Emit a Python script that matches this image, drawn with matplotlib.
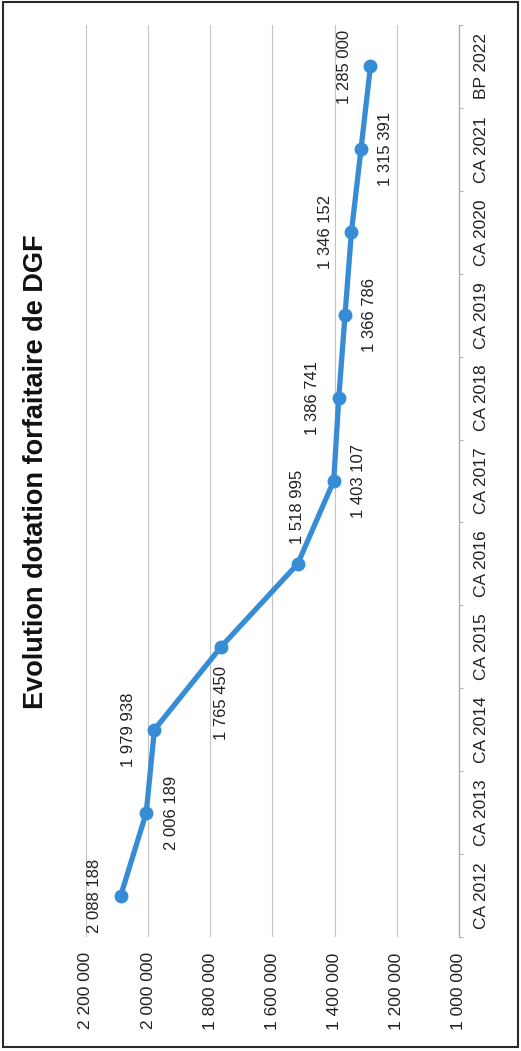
import matplotlib.pyplot as plt
import matplotlib
from matplotlib.patches import Rectangle
from matplotlib.ticker import FixedLocator, FuncFormatter

matplotlib.rcParams['font.family'] = ['Liberation Sans', 'DejaVu Sans']

# Données (graphique scanné, tourné de 90°)
CATEGORIES = ['CA 2012', 'CA 2013', 'CA 2014', 'CA 2015', 'CA 2016', 'CA 2017',
              'CA 2018', 'CA 2019', 'CA 2020', 'CA 2021', 'BP 2022']
DOTATION = [2088188, 2006189, 1979938, 1765450, 1518995, 1403107,
            1386741, 1366786, 1346152, 1315391, 1285000]
VALUE_TICKS = [1000000, 1200000, 1400000, 1600000, 1800000, 2000000, 2200000]
TITLE = 'Evolution dotation forfaitaire de DGF'

# position des étiquettes (sens du graphique d'origine)
LABEL_POS = ['above', 'below', 'above', 'left', 'right', 'below',
             'above', 'below', 'above', 'below', 'above']
OFFSETS = {'above': (-26, 0), 'below': (25, 0), 'left': (0, -56), 'right': (0, 57)}

BLUE = '#368dd6'


def fmt(v):
    return f'{int(v):,}'.replace(',', ' ')


fig = plt.figure(figsize=(5.21, 10.51), dpi=100)

# cadre autour du graphique
fig.patches.append(Rectangle((0.006, 0.004), 0.988, 0.994, transform=fig.transFigure,
                             fill=False, edgecolor='#2a2a2a', linewidth=1.5))

ax = fig.add_axes([86 / 521, 1 - 937 / 1051, (459 - 86) / 521, (937 - 25) / 1051])

y = list(range(len(CATEGORIES)))
ax.plot(DOTATION, y, '-o', color=BLUE, linewidth=3.8, markersize=9, zorder=3)

ax.set_xlim(2200000, 1000000)
ax.set_ylim(-0.5, len(CATEGORIES) - 0.5)

# graduations des valeurs (en bas, texte vertical)
ax.xaxis.set_major_locator(FixedLocator(VALUE_TICKS))
ax.xaxis.set_major_formatter(FuncFormatter(lambda v, p: fmt(v)))
ax.tick_params(axis='x', length=0, pad=11, labelsize=12.5, labelrotation=90, colors='#222222')
ax.grid(True, axis='x', color='#c4c4c4', linewidth=0.8)

# catégories (à droite, texte vertical)
ax.yaxis.tick_right()
ax.set_yticks(y)
ax.set_yticklabels(CATEGORIES, rotation=90, va='center')
ax.set_yticks([i - 0.5 for i in range(len(CATEGORIES) + 1)], minor=True)
ax.tick_params(axis='y', which='major', length=0, pad=11, labelsize=12.5, colors='#222222')
ax.tick_params(axis='y', which='minor', length=3, color='#b0b0b0', width=0.7, direction='out')

for s in ['top', 'bottom', 'left']:
    ax.spines[s].set_visible(False)
ax.spines['right'].set_color('#a8a8a8')
ax.spines['right'].set_linewidth(0.9)

# étiquettes de données
for v, yi, pos in zip(DOTATION, y, LABEL_POS):
    ax.annotate(fmt(v), (v, yi), xytext=OFFSETS[pos], textcoords='offset pixels',
                ha='center', va='center', rotation=90, fontsize=12, color='#222222')

fig.text(36 / 521, 1 - 472 / 1051, TITLE, rotation=90, ha='center', va='center',
         fontsize=19.5, fontweight='bold', color='#111111')

fig.savefig('out.png', dpi=100)
